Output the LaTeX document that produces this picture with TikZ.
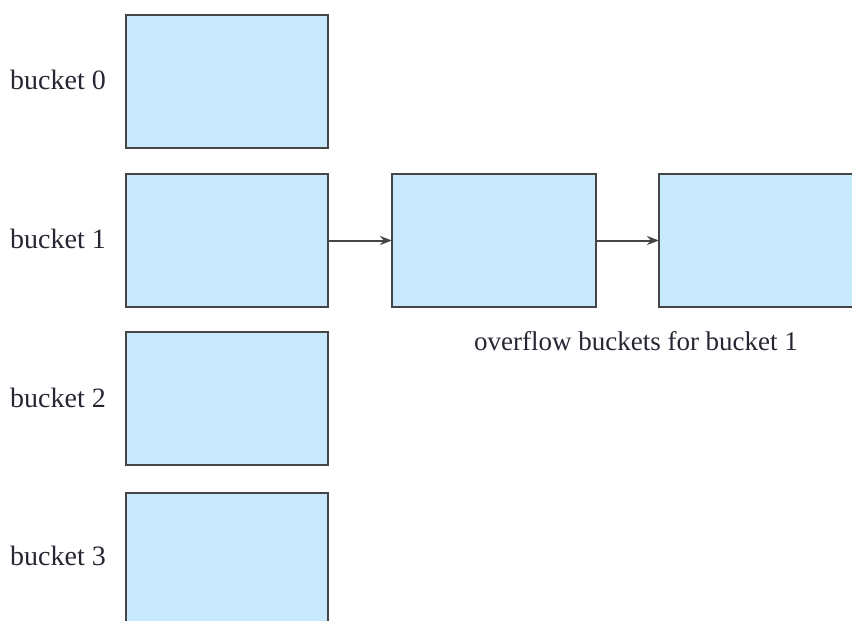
\documentclass[tikz,border=0pt]{standalone}
\usepackage{fontspec}
\setmainfont{Liberation Serif}
\usetikzlibrary{arrows.meta}
\definecolor{boxfill}{HTML}{C8E9FB}
\definecolor{boxline}{HTML}{454545}
\definecolor{txt}{HTML}{262633}
\tikzset{
  bucketbox/.style={draw=boxline, line width=1.8pt, fill=boxfill, minimum width=202pt, minimum height=133pt, inner sep=0pt, outer sep=0pt},
  lbl/.style={font=\fontsize{28}{33}\selectfont, text=txt, inner sep=0pt},
  olbl/.style={font=\fontsize{27}{32}\selectfont, text=txt, inner sep=0pt},
  link/.style={draw=boxline, line width=2pt, -{Stealth[length=12pt,width=9pt]}}
}
\begin{document}
\begin{tikzpicture}[x=1pt,y=-1pt]
\useasboundingbox (0,0) rectangle (852,621);
\clip (0,0) rectangle (852,621);
\node[bucketbox] (b0) at (227,81.5) {};
\node[bucketbox] (b1) at (227,240.5) {};
\node[bucketbox] (b2) at (227,398.5) {};
\node[bucketbox] (b3) at (227,559.5) {};
\node[bucketbox, minimum width=204pt] (o1) at (494,240.5) {};
\node[bucketbox] (o2) at (760,240.5) {};
\node[lbl, anchor=west] (l0) at (10,80) {bucket 0};
\node[lbl, anchor=west] (l1) at (10,239) {bucket 1};
\node[lbl, anchor=west] (l2) at (10,398) {bucket 2};
\node[lbl, anchor=west] (l3) at (10,556) {bucket 3};
\node[olbl] (ol) at (636,341) {overflow buckets for bucket 1};
\draw[link] (b1.east) -- (o1.west);
\draw[link] (o1.east) -- (o2.west);
\end{tikzpicture}
\end{document}
